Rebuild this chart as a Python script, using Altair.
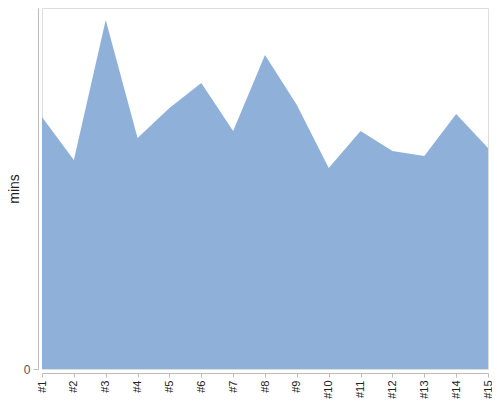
import altair as alt
import pandas as pd

labels = ["#1", "#2", "#3", "#4", "#5", "#6", "#7", "#8", "#9", "#10", "#11", "#12", "#13", "#14", "#15"]
mins = [252, 209, 349, 231, 261, 286, 238, 314, 264, 201, 238, 218, 213, 255, 221]

df = pd.DataFrame({"run": labels, "mins": mins})

chart = alt.Chart(df).mark_area(color="#8fb1d9", opacity=1).encode(
    x=alt.X("run:O", sort=labels, title=None,
            scale=alt.Scale(padding=0),
            axis=alt.Axis(labelAngle=-90, offset=4, tickSize=4, labelPadding=3,
                          labelFontSize=11, labelColor="#222", domainColor="#bbb",
                          tickColor="#bbb", grid=False)),
    y=alt.Y("mins:Q", title="mins", scale=alt.Scale(domain=[0, 361], nice=False),
            axis=alt.Axis(values=[0], offset=4, tickSize=5, labelPadding=3,
                          labelFontSize=12, labelColor="#555", domainColor="#bbb",
                          tickColor="#bbb", grid=False, titleFontSize=14,
                          titleFontWeight="normal", titleColor="#222",
                          titleX=-20, titleBaseline="alphabetic", titleAngle=270,
                          titleAlign="center")),
).properties(
    width=446, height=361,
    autosize=alt.AutoSizeParams(type="none"),
    padding={"left": 34, "top": 0, "right": 4, "bottom": 30},
).configure_view(stroke=None).configure(font="Liberation Sans")

chart.save("out.html", embed_options={"renderer": "svg", "actions": False})
